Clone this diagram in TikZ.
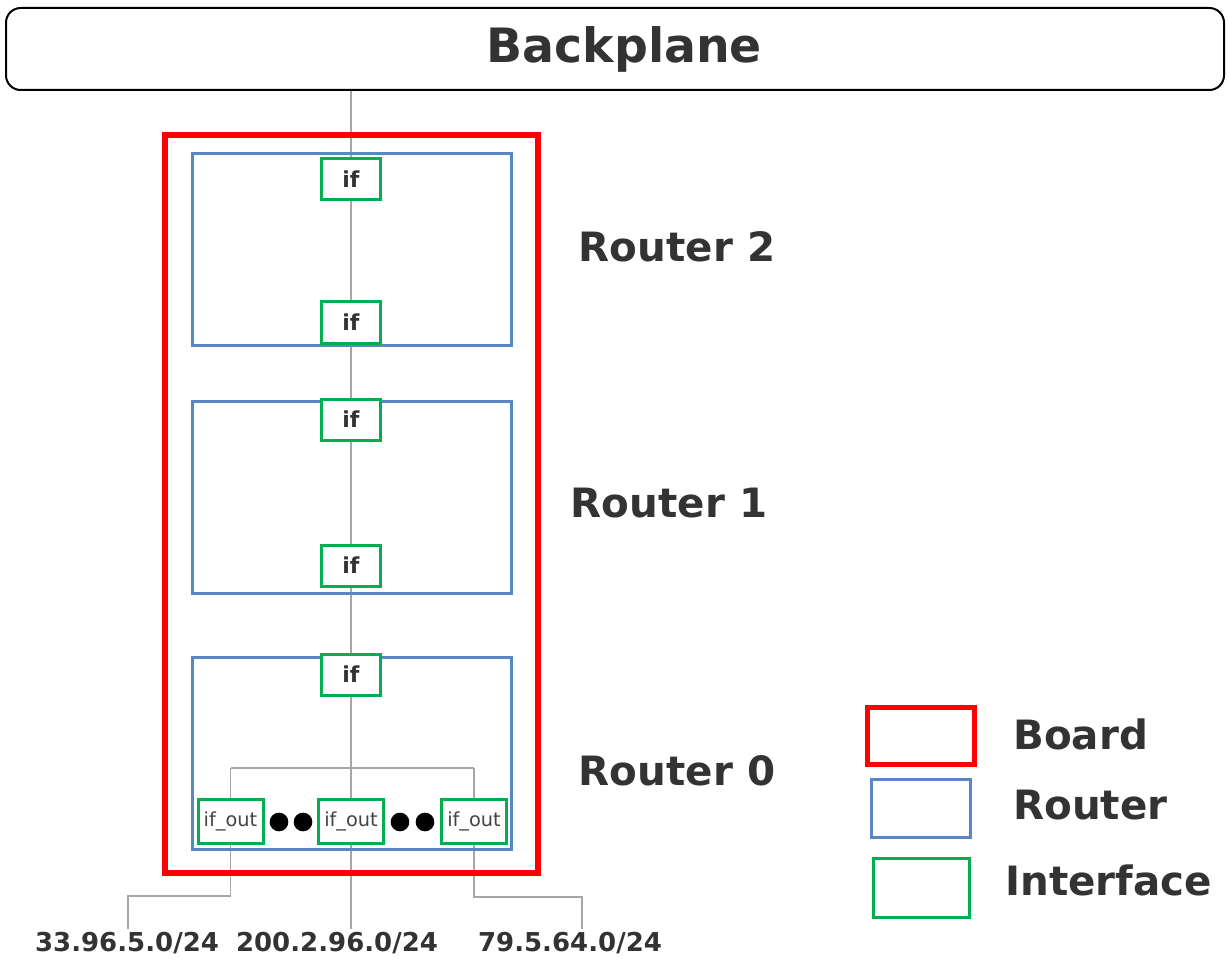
\documentclass[tikz,border=0pt]{standalone}
\usepackage{fontspec}
\setmainfont{DejaVu Sans}
\usetikzlibrary{backgrounds}
\definecolor{bred}{HTML}{FF0000}
\definecolor{rblue}{HTML}{5A86C4}
\definecolor{igreen}{HTML}{00B050}
\definecolor{wire}{HTML}{A6A6A6}
\definecolor{txt}{HTML}{333333}
\definecolor{txtlight}{HTML}{444444}
\begin{document}
\begin{tikzpicture}[x=0.75pt,y=-0.75pt,
  bp/.style={draw=black, line width=1.5pt, rounded corners=11pt, minimum width=913.5pt, minimum height=61.5pt, inner sep=0pt, font=\bfseries\fontsize{35.5}{35.5}\selectfont, text=txt},
  boardbox/.style={draw=bred, line width=4.5pt, minimum width=279.75pt, minimum height=553.5pt, inner sep=0pt},
  routerbox/.style={draw=rblue, line width=2.25pt, minimum width=239.25pt, minimum height=144pt, inner sep=0pt},
  iface/.style={draw=igreen, line width=2.25pt, fill=white, minimum width=44.25pt, minimum height=30.75pt, inner sep=0pt, font=\bfseries\fontsize{16.5}{16.5}\selectfont, text=txt},
  ifout/.style={iface, minimum width=48.75pt, minimum height=33pt, font=\fontsize{14.5}{14.5}\selectfont, text=txtlight},
  dotnode/.style={circle, fill=black, minimum size=14pt, inner sep=0pt},
  rlabel/.style={font=\bfseries\fontsize{30.3}{30.3}\selectfont, text=txt, inner sep=0pt},
  iplabel/.style={font=\bfseries\fontsize{19.5}{19.5}\selectfont, text=txt, inner sep=0pt},
  wireline/.style={draw=wire, line width=1.1pt}
]
\useasboundingbox (0,0) rectangle (1228,959);

\node[bp] (bp) at (615,49) {\hspace*{14pt}Backplane};

\node[boardbox] (board) at (351.5,504) {};
\node[routerbox] (r2) at (352,249.5) {};
\node[routerbox] (r1) at (352,497) {};
\node[routerbox] (r0) at (352,753) {};

\node[iface] (i2a) at (351,179) {if};
\node[iface] (i2b) at (351,322.5) {if};
\node[iface] (i1a) at (351,419.5) {if};
\node[iface] (i1b) at (351,565.5) {if};
\node[iface] (i0a) at (351,674.5) {if};

\node[ifout] (ol) at (230.5,821) {if\_out};
\node[ifout] (om) at (351,821) {if\_out};
\node[ifout] (or) at (474,821) {if\_out};

\node[dotnode] (d1) at (279,822) {};
\node[dotnode] (d2) at (303,822) {};
\node[dotnode] (d3) at (400,822) {};
\node[dotnode] (d4) at (425,822) {};

\node[rlabel] (l2) at (677,247) {Router 2};
\node[rlabel] (l1) at (669,503) {Router 1};
\node[rlabel] (l0) at (677,771) {Router 0};

\node[iplabel] (ipl) at (127,943) {33.96.5.0/24};
\node[iplabel] (ipm) at (337,943) {200.2.96.0/24};
\node[iplabel] (ipr) at (570,943) {79.5.64.0/24};

\coordinate (jl) at (230.5,768);
\coordinate (jr) at (474,768);
\coordinate (bl1) at (230.5,896);
\coordinate (bl2) at (128,896);
\coordinate (bl3) at (128,929);
\coordinate (br1) at (474,897);
\coordinate (br2) at (582,897);
\coordinate (br3) at (582,929);
\coordinate (bm) at (351,929);

\begin{pgfonlayer}{background}
\draw[wireline] (i2a.north |- bp.south) -- (i2a.center);
\draw[wireline] (i2a) -- (i2b);
\draw[wireline] (i2b) -- (i1a);
\draw[wireline] (i1a) -- (i1b);
\draw[wireline] (i1b) -- (i0a);
\draw[wireline] (i0a) -- (om);
\draw[wireline] (jl) -- (jr);
\draw[wireline] (jl) -- (ol);
\draw[wireline] (jr) -- (or);
\draw[wireline] (ol) -- (bl1) -- (bl2) -- (bl3);
\draw[wireline] (om) -- (bm);
\draw[wireline] (or) -- (br1) -- (br2) -- (br3);
\end{pgfonlayer}

% legend
\node[draw=bred, line width=3.75pt, minimum width=80.25pt, minimum height=42.75pt, inner sep=0pt] (lgb) at (921,736) {};
\node[draw=rblue, line width=2.25pt, minimum width=74.25pt, minimum height=43.5pt, inner sep=0pt] (lgr) at (921,808.5) {};
\node[draw=igreen, line width=2.25pt, minimum width=72pt, minimum height=44.25pt, inner sep=0pt] (lgi) at (921.5,888) {};
\node[rlabel, anchor=west] (tb) at (1013,734) {Board};
\node[rlabel, anchor=west] (tr) at (1013,805) {Router};
\node[rlabel, anchor=west] (ti) at (1005,880) {Interface};
\end{tikzpicture}
\end{document}
